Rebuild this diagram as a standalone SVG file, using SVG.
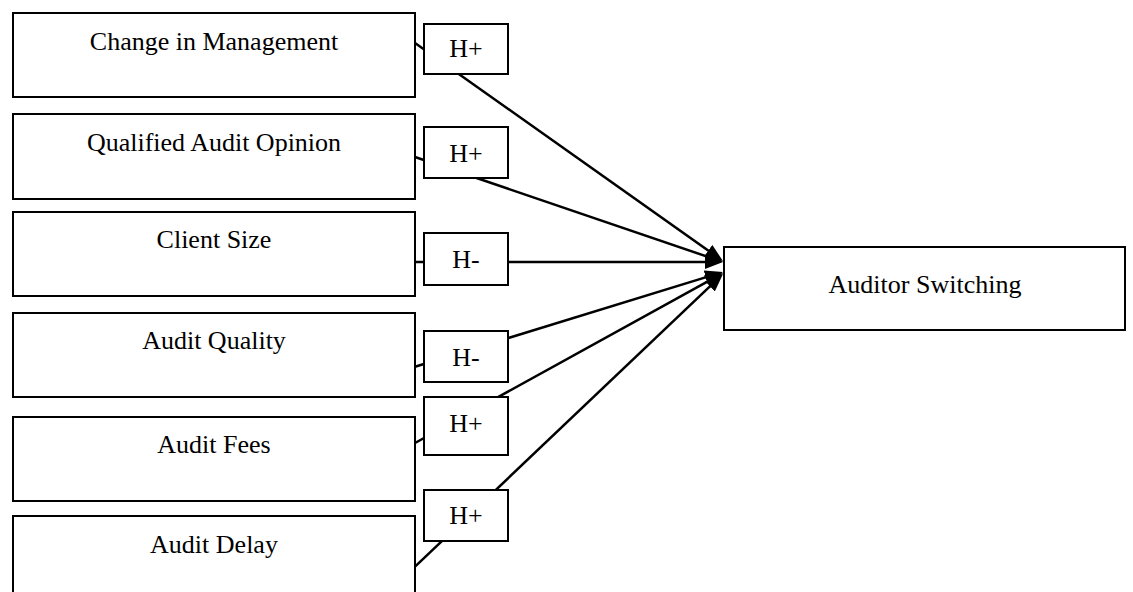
<svg xmlns="http://www.w3.org/2000/svg" width="1133" height="592" viewBox="0 0 1133 592">
<style>
.box{fill:#fff;stroke:#000;stroke-width:2}
.lbl{fill:#fff;stroke:#000;stroke-width:2}
.t{font-family:"Liberation Serif","Times New Roman",serif;font-size:26px;fill:#000;text-anchor:middle}
.c{stroke:#000;stroke-width:2.5;fill:none;marker-end:url(#ah)}
</style>
<defs>
<marker id="ah" markerUnits="userSpaceOnUse" markerWidth="19" markerHeight="15" refX="9" refY="7" orient="auto">
<path d="M0,0 L18,7 L0,14 z" fill="#000"/>
</marker>
</defs>
<rect width="1133" height="592" fill="#fff"/>
<g id="connectors">
<line class="c" x1="415" y1="43" x2="715.6" y2="255.8"/>
<line class="c" x1="415" y1="157" x2="714.5" y2="259.1"/>
<line class="c" x1="415" y1="262" x2="714" y2="262"/>
<line class="c" x1="415" y1="366.7" x2="714.4" y2="274.6"/>
<line class="c" x1="415" y1="443" x2="715.1" y2="277.3"/>
<line class="c" x1="415" y1="566.7" x2="716.5" y2="280.2"/>
</g>
<g id="n-change-management">
<rect class="box" x="13" y="13" width="402" height="84"/>
<text class="t" x="214" y="50">Change in Management</text>
</g>
<g id="n-qualified-opinion">
<rect class="box" x="13" y="114" width="402" height="85"/>
<text class="t" x="214" y="151">Qualified Audit Opinion</text>
</g>
<g id="n-client-size">
<rect class="box" x="13" y="212" width="402" height="84"/>
<text class="t" x="214" y="248">Client Size</text>
</g>
<g id="n-audit-quality">
<rect class="box" x="13" y="313" width="402" height="84"/>
<text class="t" x="214" y="349">Audit Quality</text>
</g>
<g id="n-audit-fees">
<rect class="box" x="13" y="417" width="402" height="84"/>
<text class="t" x="214" y="453">Audit Fees</text>
</g>
<g id="n-audit-delay">
<rect class="box" x="13" y="516" width="402" height="90"/>
<text class="t" x="214" y="553">Audit Delay</text>
</g>
<g id="h1">
<rect class="lbl" x="424" y="24" width="84" height="50"/>
<text class="t" x="466" y="57">H+</text>
</g>
<g id="h2">
<rect class="lbl" x="424" y="127" width="84" height="51"/>
<text class="t" x="466" y="162">H+</text>
</g>
<g id="h3">
<rect class="lbl" x="424" y="233" width="84" height="52"/>
<text class="t" x="466" y="268">H-</text>
</g>
<g id="h4">
<rect class="lbl" x="424" y="331" width="84" height="51"/>
<text class="t" x="466" y="366">H-</text>
</g>
<g id="h5">
<rect class="lbl" x="424" y="397" width="84" height="58"/>
<text class="t" x="466" y="432">H+</text>
</g>
<g id="h6">
<rect class="lbl" x="424" y="490" width="84" height="51"/>
<text class="t" x="466" y="524">H+</text>
</g>
<g id="n-auditor-switching">
<rect class="box" x="724" y="247" width="401" height="83"/>
<text class="t" x="925" y="293">Auditor Switching</text>
</g>
</svg>
